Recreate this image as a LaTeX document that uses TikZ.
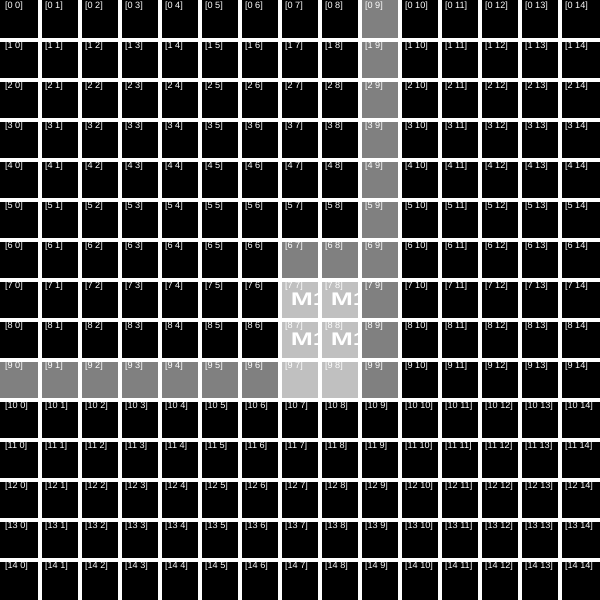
\documentclass[tikz,border=0pt]{standalone}
\usepackage{fontspec}
\setmainfont{Liberation Sans}
\definecolor{GridDark}{HTML}{808080}
\definecolor{GridLight}{HTML}{C0C0C0}

\tikzset{
  celllabel/.style={anchor=north west,inner sep=0pt,text=white,font=\fontsize{6.5}{7}\selectfont},
  marklabel/.style={anchor=west,inner sep=0pt,text=white,xscale=1.45,font=\fontsize{13}{13}\selectfont\bfseries}
}

\begin{document}
\begin{tikzpicture}[x=1cm,y=-1cm,line cap=rect]
  \useasboundingbox (0,0) rectangle (15,15);
  \fill[black] (0,0) rectangle (15,15);
  % highlighted cells
  \foreach \r/\c in {0/9,1/9,2/9,3/9,4/9,5/9,6/9,7/9,8/9,9/9,9/0,9/1,9/2,9/3,9/4,9/5,9/6,6/7,6/8}
    \fill[GridDark] (\c,\r) rectangle (\c+1,\r+1);
  \foreach \r/\c in {7/7,7/8,8/7,8/8,9/7,9/8}
    \fill[GridLight] (\c,\r) rectangle (\c+1,\r+1);
  \foreach \r/\c in {7/7,7/8,8/7,8/8} {
    \begin{scope}
      \clip (\c,\r) rectangle (\c+1,\r+1);
      \node[marklabel] (m-\r-\c) at (\c+0.26,\r+0.47) {M1};
    \end{scope}
  }
  % grid lines
  \foreach \k in {1,...,14} {
    \draw[white,line width=0.1cm] (\k,0) -- (\k,15);
    \draw[white,line width=0.1cm] (0,\k) -- (15,\k);
  }
  \foreach \r in {0,...,14} \foreach \c in {0,...,14}
    \node[celllabel] (l-\r-\c) at (\c+0.12,\r+0.03) {[\r\ \c]};
\end{tikzpicture}
\end{document}
